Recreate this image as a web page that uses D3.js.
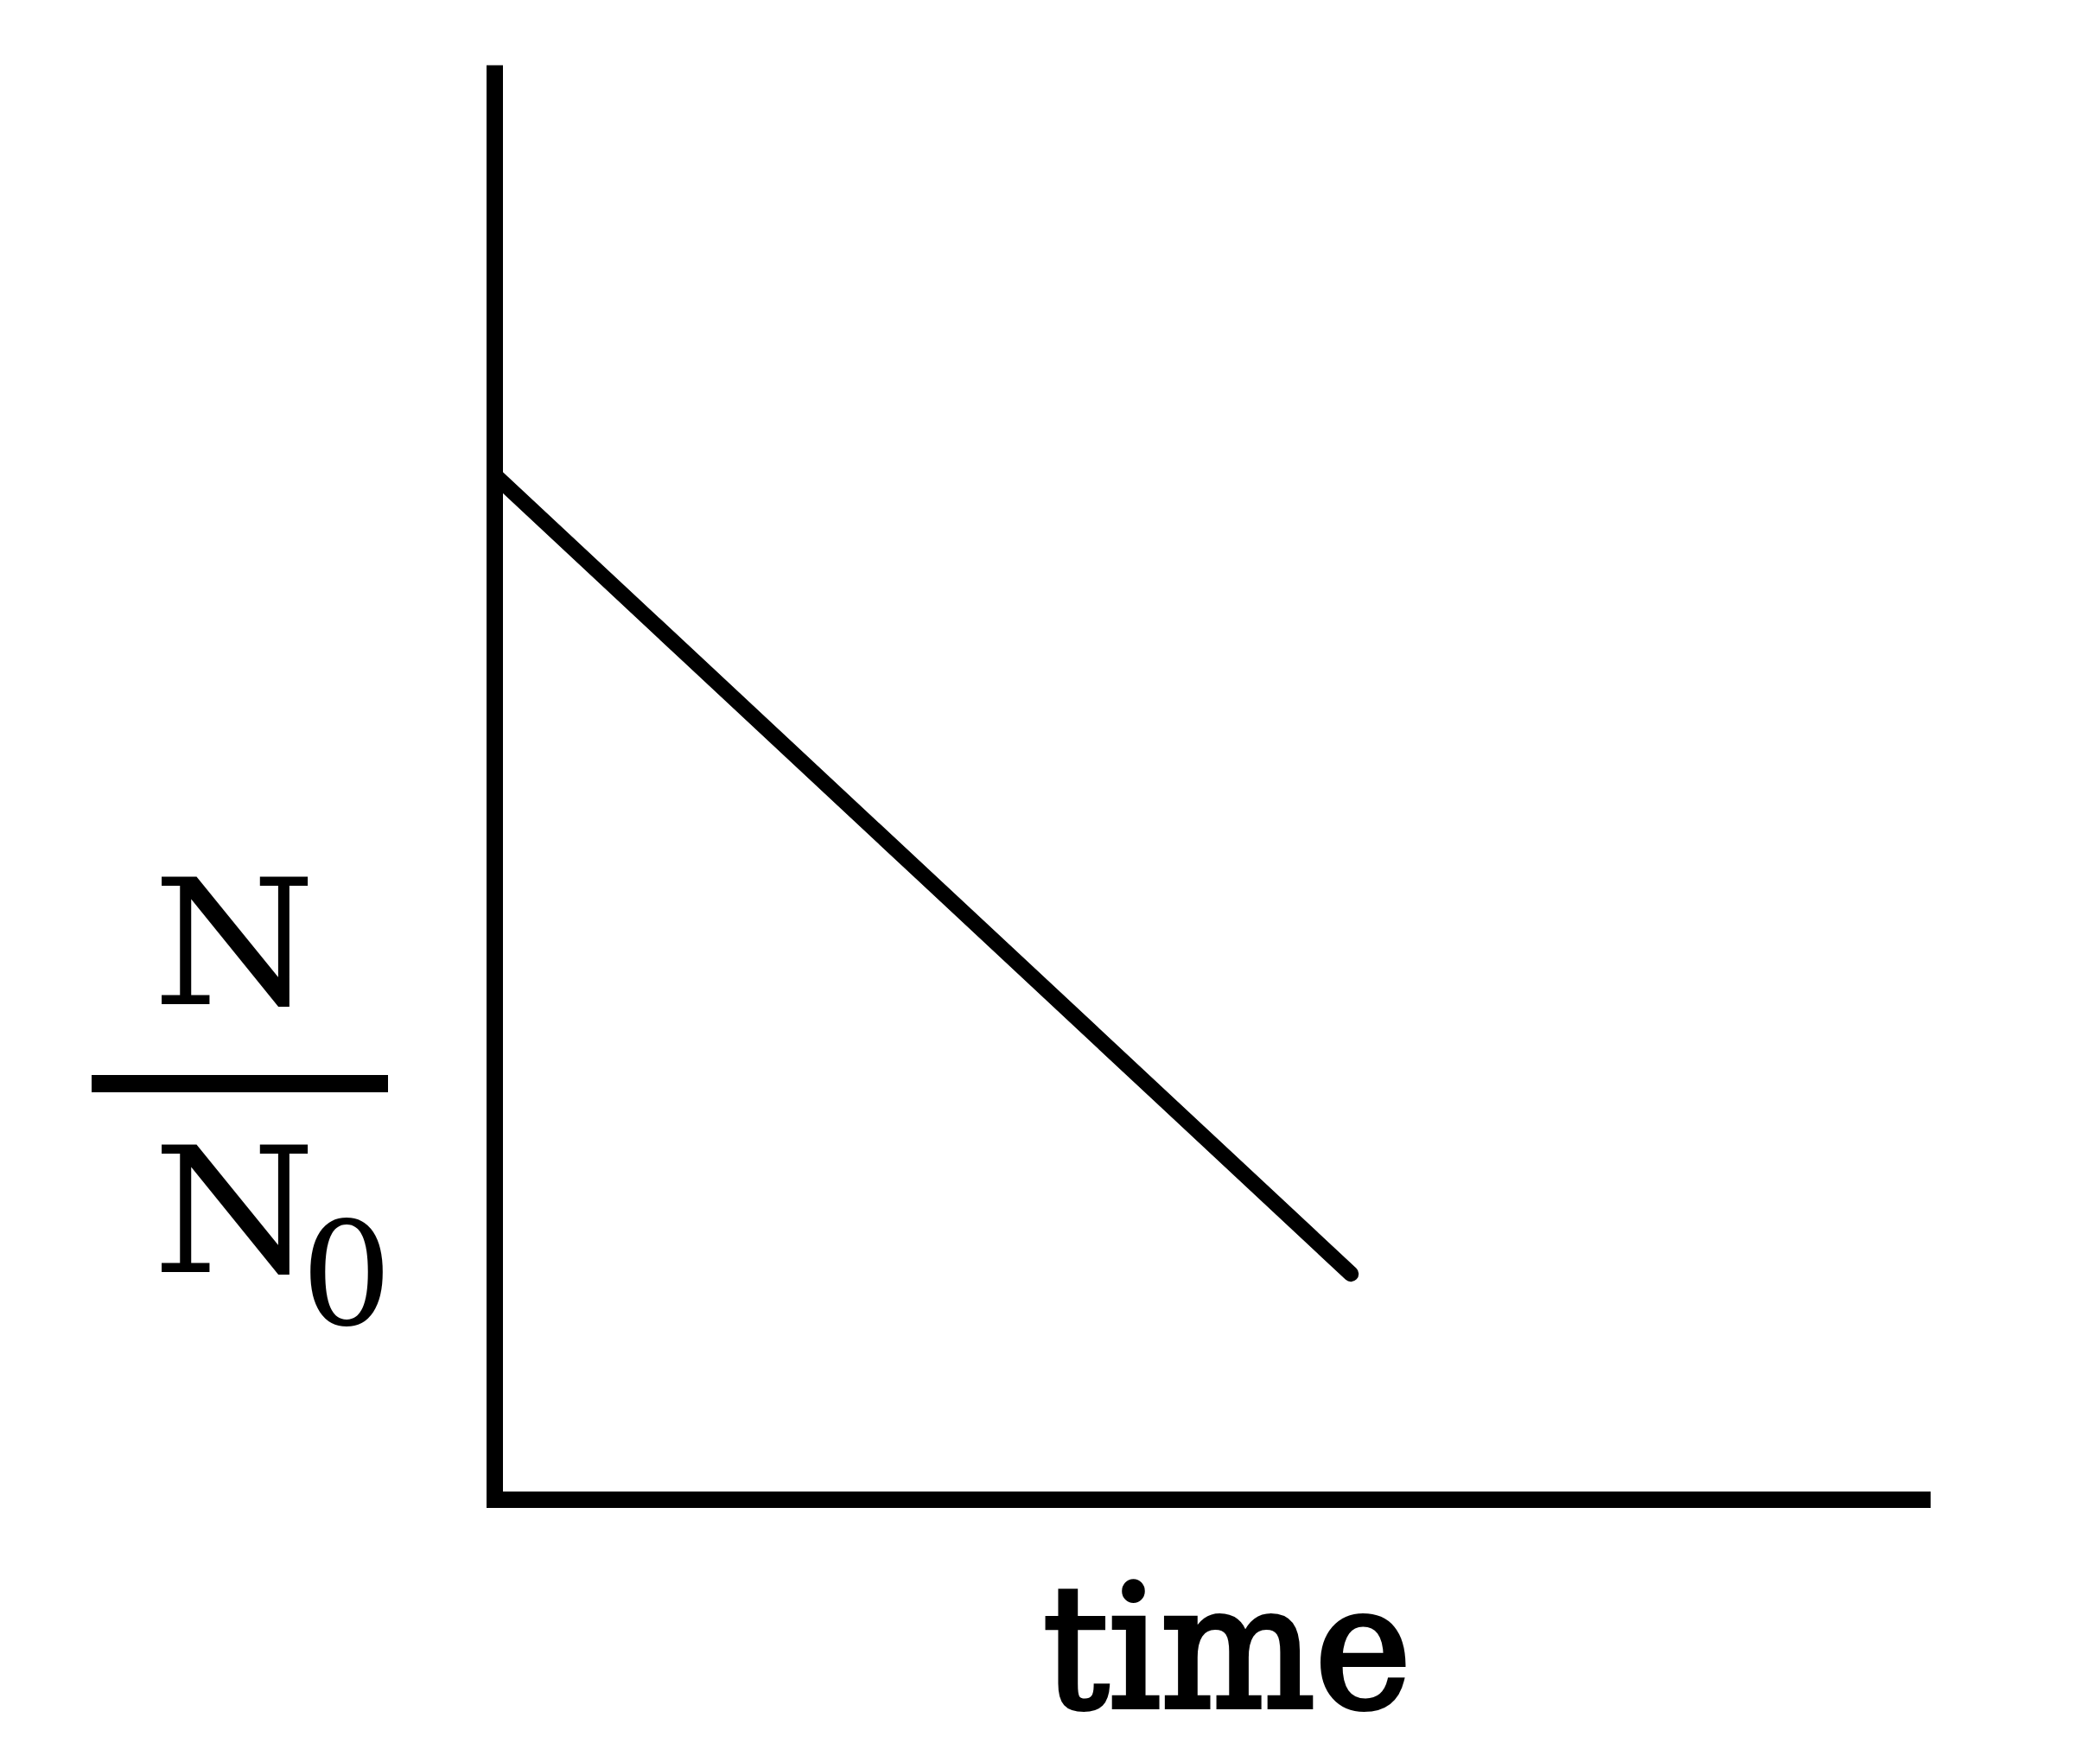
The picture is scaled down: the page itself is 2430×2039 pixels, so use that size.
<!DOCTYPE html>
<html>
<head>
<meta charset="utf-8">
<script src="https://cdn.jsdelivr.net/npm/d3@7"></script>
<style>
  body { margin: 0; background: #fff; }
  svg { display: block; }
  .label { font-family: "DejaVu Serif", serif; fill: #000; }
</style>
</head>
<body>
<svg id="svg_decay" width="2430" height="2039"></svg>
<script>
// values
const times = [0, 6]
const ratios = [1.0, 0.22]
const timeDomain = [0, 10]
const ratioDomain = [0, 1.4]

const svg = d3.select('#svg_decay')

const xScale = d3.scaleLinear()
  .domain(timeDomain)
  .range([572, 2224])

const yScale = d3.scaleLinear()
  .domain(ratioDomain)
  .range([1735, 75])

const points = times.map((t, i) => ({ t: t, r: ratios[i] }))

const line = d3.line()
  .x(d => xScale(d.t))
  .y(d => yScale(d.r))

// the decay line goes under the axes
svg.append('path')
  .datum(points)
  .attr('d', line)
  .attr('fill', 'none')
  .attr('stroke', '#000')
  .attr('stroke-width', 18)
  .attr('stroke-linecap', 'round')

const bottomAxis = d3.axisBottom(xScale).tickValues([]).tickSizeOuter(0)
const leftAxis = d3.axisLeft(yScale).tickValues([]).tickSizeOuter(0)

const xAxis = svg.append('g')
  .attr('transform', `translate(0, ${yScale(0)})`)
  .call(bottomAxis)

const yAxis = svg.append('g')
  .attr('transform', `translate(${xScale(0)}, 0)`)
  .call(leftAxis)

xAxis.select('.domain')
  .attr('stroke', '#000')
  .attr('stroke-width', 19)
  .attr('stroke-linecap', 'square')

yAxis.select('.domain')
  .attr('stroke', '#000')
  .attr('stroke-width', 19)
  .attr('stroke-linecap', 'butt')

// y label N / N0
const yLabel = svg.append('g').attr('class', 'label')

yLabel.append('text')
  .attr('x', 271)
  .attr('y', 1162)
  .attr('text-anchor', 'middle')
  .attr('font-size', 203)
  .attr('textLength', 189)
  .attr('lengthAdjust', 'spacingAndGlyphs')
  .text('N')

yLabel.append('line')
  .attr('x1', 106)
  .attr('x2', 449)
  .attr('y1', 1254)
  .attr('y2', 1254)
  .attr('stroke', '#000')
  .attr('stroke-width', 20)

yLabel.append('text')
  .attr('x', 271)
  .attr('y', 1472)
  .attr('text-anchor', 'middle')
  .attr('font-size', 203)
  .attr('textLength', 189)
  .attr('lengthAdjust', 'spacingAndGlyphs')
  .text('N')

yLabel.append('text')
  .attr('x', 401)
  .attr('y', 1533)
  .attr('text-anchor', 'middle')
  .attr('font-size', 166)
  .text('0')

// x label
svg.append('text')
  .attr('class', 'label')
  .attr('x', 1420)
  .attr('y', 1975)
  .attr('text-anchor', 'middle')
  .attr('font-size', 197)
  .attr('textLength', 426)
  .attr('lengthAdjust', 'spacingAndGlyphs')
  .attr('stroke', '#000')
  .attr('stroke-width', 6)
  .text('time')
</script>
</body>
</html>
